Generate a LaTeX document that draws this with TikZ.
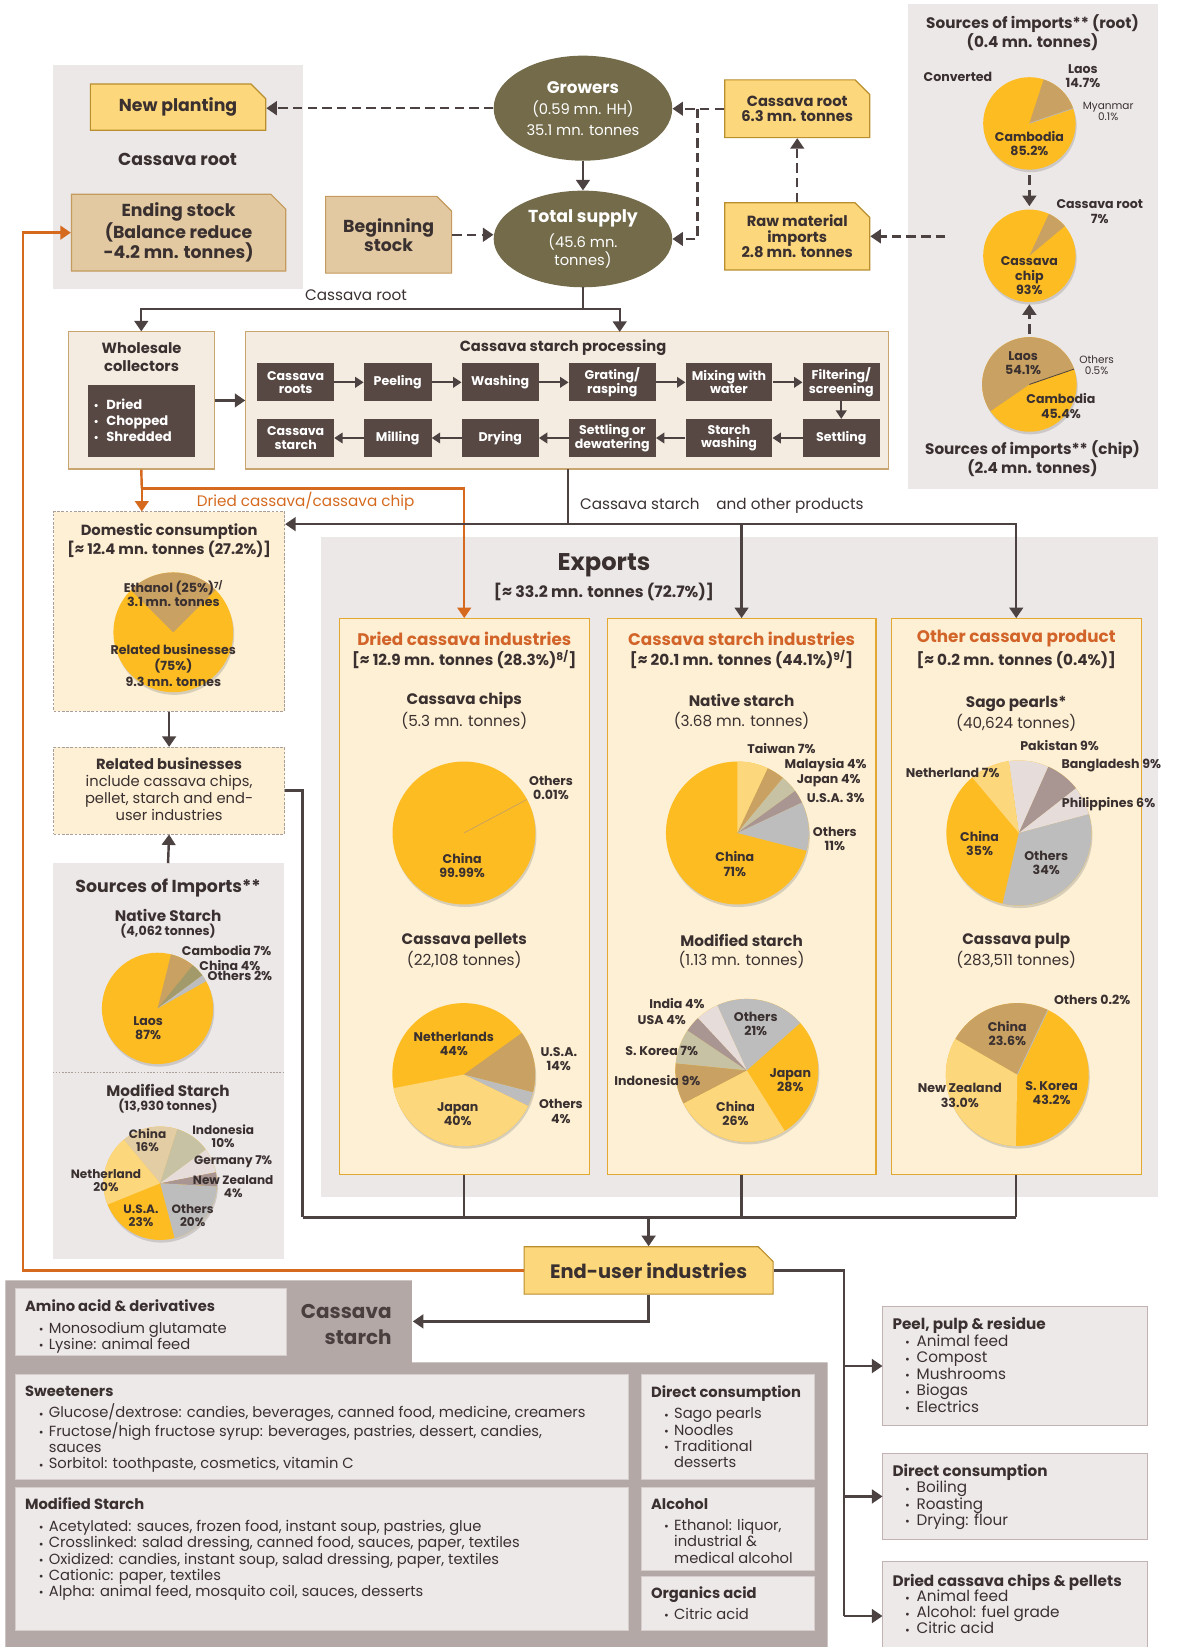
\documentclass[tikz,border=0pt]{standalone}
\usepackage{fontspec}
\setmainfont{Poppins}
\usetikzlibrary{shapes.misc,shapes.geometric,arrows.meta,shadows}
\definecolor{txt}{HTML}{3A3030}
\definecolor{arr}{HTML}{4D4242}
\definecolor{orng}{HTML}{D56A1F}
\definecolor{ylw}{HTML}{FDD77B}
\definecolor{ylwb}{HTML}{B98E2E}
\definecolor{tanf}{HTML}{E2C9A1}
\definecolor{tanb}{HTML}{C49A5E}
\definecolor{pgray}{HTML}{ECE8E7}
\definecolor{olive}{HTML}{736B4A}
\definecolor{dkbr}{HTML}{574843}
\definecolor{cream}{HTML}{FEF0D4}
\definecolor{gold}{HTML}{E3A832}
\definecolor{procf}{HTML}{F4ECE1}
\definecolor{procb}{HTML}{C9A56F}
\definecolor{pyel}{HTML}{FDBC22}
\definecolor{plyel}{HTML}{FDD77B}
\definecolor{ptan}{HTML}{C9A163}
\definecolor{pgr}{HTML}{BEBDBD}
\definecolor{pmauve}{HTML}{A99592}
\definecolor{ppink}{HTML}{E6DDDB}
\definecolor{pbeige}{HTML}{C8C2A4}
\definecolor{polive}{HTML}{A29A6B}
\definecolor{pltan}{HTML}{E3CDA5}
\definecolor{botp}{HTML}{B3A8A6}
\definecolor{botb}{HTML}{EDE9E8}
\definecolor{botbd}{HTML}{D6CECC}
\definecolor{rbd}{HTML}{C2B3B2}
\definecolor{dashc}{HTML}{A99F97}
\definecolor{ttlor}{HTML}{D2642A}
\definecolor{cstc}{HTML}{4A3F3F}
\newcommand\fs[2]{\fontsize{#1}{#2}\selectfont}
\newcommand\wdg[3]{\fill[#3] (0,0) -- (#1:\prr) arc[start angle=#1, end angle=#2, radius=\prr] -- cycle;}
\newcommand\bl{\makebox[9.6pt][l]{\raisebox{-0.3pt}{\fs{11}{11}\textbullet}}}
\newcommand\blr{\makebox[11pt][l]{\raisebox{-0.3pt}{\fs{11}{11}\textbullet}}}
\newcommand\bw{\makebox[12pt][l]{\fs{10}{10}\textbullet}}
\begin{document}
\begin{tikzpicture}[x=1pt,y=-1pt,
  every node/.append style={text=txt, inner sep=0pt},
  yb/.style={chamfered rectangle, chamfered rectangle corners=north east, chamfered rectangle sep=7pt, fill=ylw, draw=ylwb, line width=1.1pt, align=center},
  tb/.style={yb, fill=tanf, draw=tanb},
  ell/.style={ellipse, fill=olive, draw=none, text=white, align=center},
  stepbox/.style={rectangle, fill=dkbr, minimum height=36, text=white, font=\bfseries\fs{12}{12.5}, align=center},
  lb/.style={font=\bfseries\fs{12}{13.5}, align=center},
  lbs/.style={font=\fs{10}{10.5}, align=center},
  hd/.style={font=\bfseries\fs{14.5}{18}, align=center},
  rg/.style={font=\fs{14.5}{18}, align=center},
  otl/.style={font=\bfseries\fs{16}{18}, text=ttlor},
  expbox/.style={rectangle, fill=cream, draw=gold, line width=1.1pt},
  dbox/.style={rectangle, fill=cream, draw=dashc, line width=0.9pt, dash pattern=on 2.5pt off 1.5pt},
  gpanel/.style={rectangle, fill=pgray, draw=none},
  bbox/.style={rectangle, fill=botb, draw=botbd, line width=0.9pt},
  rbox/.style={rectangle, fill=botb, draw=rbd, line width=0.9pt},
  pienode/.style={circle, fill=pyel, draw=none, drop shadow={shadow xshift=1pt, shadow yshift=-2.5pt, opacity=0.3}},
  ln/.style={draw=arr, line width=2.3pt},
  ar/.style={ln, -{Triangle[length=10pt,width=13pt]}},
  ar2/.style={draw=arr, line width=1.8pt, -{Triangle[length=8pt,width=10pt]}},
  dar/.style={ar, dash pattern=on 9pt off 5pt},
  oln/.style={draw=orng, line width=2.3pt},
  oar/.style={oln, -{Triangle[length=10pt,width=13pt]}},
]
\path[use as bounding box] (0,0) rectangle (1121,1568);
\clip (0,0) rectangle (1121,1568);
% ---------- panels ----------
\node[gpanel, minimum width=238, minimum height=213] (ltp) at (169,168.5) {};
\node[gpanel, minimum width=238, minimum height=462] (rtp) at (983,235) {};
\node[gpanel, minimum width=796, minimum height=629] (exppan) at (704,825.5) {};
\node[gpanel, minimum width=220, minimum height=377] (srcp) at (160,1010.5) {};
\fill[botp] (5,1219) -- (392,1219) -- (392,1297) -- (788,1297) -- (788,1568) -- (5,1568) -- cycle;
\draw[dashc, line width=0.8pt, dash pattern=on 1.5pt off 1.5pt] (50,1020.8) -- (270,1020.8);

% ---------- top flow ----------
\node[yb, minimum width=167, minimum height=44, font=\bfseries\fs{16.5}{18}] (newp) at (169.5,102) {New planting};
\node[font=\bfseries\fs{16.5}{18}] (crt) at (169,152) {Cassava root};
\node[tb, minimum width=204, minimum height=73, font=\bfseries\fs{16.5}{18.2}] (endst) at (170,221.5) {Ending stock\\(Balance reduce\\-4.2 mn. tonnes)};
\node[tb, minimum width=120, minimum height=73, font=\bfseries\fs{16.5}{18}] (begst) at (370,223.5) {Beginning\\stock};
\node[ell, minimum width=170, minimum height=100, font=\fs{14}{20}] (grow) at (555,103) {{\bfseries\fs{16}{20}Growers}\\(0.59 mn. HH)\\35.1 mn. tonnes};
\node[ell, minimum width=170, minimum height=92, font=\fs{14}{15}] (tot) at (555,227.5) {{\bfseries\fs{16.5}{15}Total supply}\\[5pt](45.6 mn.\\tonnes)};
\node[yb, minimum width=138, minimum height=55, font=\bfseries\fs{14}{14.5}] (croot) at (759,103.5) {Cassava root\\6.3 mn. tonnes};
\node[yb, minimum width=138, minimum height=64, font=\bfseries\fs{14}{15}] (rawm) at (759,225) {Raw material\\imports\\2.8 mn. tonnes};
\node[rg] (crl) at (339,281) {Cassava root};

% ---------- right panel pies ----------
\node[hd] (t1) at (983,31) {Sources of imports** (root)\\(0.4 mn. tonnes)};
\node[pienode, minimum size=88] (pr1) at (980,117.5) {};
\begin{scope}[shift={(pr1.center)}, yscale=-1]\def\prr{44}
\wdg{72}{19.1}{ptan}
\draw[pgr, line width=0.6pt] (0,0) -- (18.9:44);
\end{scope}
\node[lb] (conv) at (912,73.5) {Converted};
\node[lb] (l1) at (1031,72.5) {Laos\\14.7\%};
\node[lbs] (l2) at (1055,106) {Myanmar\\0.1\%};
\node[lb] (l3) at (980,136.5) {Cambodia\\85.2\%};
\node[pienode, minimum size=88] (pr2) at (980,243.5) {};
\begin{scope}[shift={(pr2.center)}, yscale=-1]\def\prr{44}
\wdg{65}{40}{ptan}
\end{scope}
\node[lb] (l4) at (1047,201.5) {Cassava root\\7\%};
\node[lb] (l5) at (980,262.5) {Cassava\\chip\\93\%};
\node[pienode, minimum size=90] (pr3) at (980,366) {};
\begin{scope}[shift={(pr3.center)}, yscale=-1]\def\prr{45}
\wdg{19.8}{214.5}{ptan}
\draw[arr, line width=0.8pt] (0,0) -- (19:45);
\end{scope}
\node[lb] (l6) at (974,346) {Laos\\54.1\%};
\node[lbs] (l7) at (1044,348) {Others\\0.5\%};
\node[lb] (l8) at (1010,386.5) {Cambodia\\45.4\%};
\node[hd] (t2) at (983,437) {Sources of imports** (chip)\\(2.4 mn. tonnes)};

% ---------- wholesale & processing ----------
\node[rectangle, fill=procf, draw=procb, line width=1pt, minimum width=139, minimum height=130.5] (whole) at (134.5,381.25) {};
\node[font=\bfseries\fs{14}{18}, align=center] (wht) at (134.8,340) {Wholesale\\collectors};
\node[rectangle, fill=dkbr, minimum width=102, minimum height=68] (wbox) at (135,401) {};
\node[anchor=west, font=\bfseries\fs{12.5}{15.3}, text=white, align=left] (wbt) at (89,400) {\bw Dried\\\bw Chopped\\\bw Shredded};
\node[rectangle, fill=procf, draw=procb, line width=1pt, minimum width=612, minimum height=130.5] (proc) at (540,381.25) {};
\node[font=\bfseries\fs{14}{18}] (pt) at (536,331) {Cassava starch processing};
\node[stepbox, minimum width=73] (s1) at (281.5,364) {Cassava\\roots};
\node[stepbox, minimum width=64.4] (s2) at (378.6,364) {Peeling};
\node[stepbox, minimum width=73.2] (s3) at (476.2,364) {Washing};
\node[stepbox, minimum width=82.8] (s4) at (582.9,364) {Grating/\\rasping};
\node[stepbox, minimum width=82.5] (s5) at (694,364) {Mixing with\\water};
\node[stepbox, minimum width=73.3] (s6) at (800.9,364) {Filtering/\\screening};
\node[stepbox, minimum width=73.3] (s7) at (800.9,417) {Settling};
\node[stepbox, minimum width=82.5] (s8) at (694,417) {Starch\\washing};
\node[stepbox, minimum width=82.8] (s9) at (582.9,417) {Settling or\\dewatering};
\node[stepbox, minimum width=73.2] (s10) at (476.2,417) {Drying};
\node[stepbox, minimum width=64.4] (s11) at (378.6,417) {Milling};
\node[stepbox, minimum width=73] (s12) at (281.5,417) {Cassava\\starch};
\foreach \a/\b in {s1/s2,s2/s3,s3/s4,s4/s5,s5/s6,s6/s7,s7/s8,s8/s9,s9/s10,s10/s11,s11/s12} \draw[ar2] (\a) -- (\b);

\node[font=\fs{14.5}{18}, text=orng] (dcl) at (291,477) {Dried cassava/cassava chip};
\node[anchor=west, font=\fs{14.5}{18}] (csl) at (552,482) {Cassava starch\hspace{1.1em}and other products};

% ---------- domestic ----------
\node[dbox, minimum width=220, minimum height=190] (dom) at (161,582) {};
\node[hd, font=\bfseries\fs{14}{18}] (domt) at (161,514.4) {Domestic consumption\\{}[≈ 12.4 mn. tonnes (27.2\%)]};
\node[pienode, minimum size=114] (pd) at (165,602) {};
\begin{scope}[shift={(pd.center)}, yscale=-1]\def\prr{57}
\wdg{45}{135}{ptan}
\end{scope}
\node[lb] (dl1) at (165,565) {Ethanol (25\%)\textsuperscript{7/}\\3.1 mn. tonnes};
\node[lb, font=\bfseries\fs{12}{15}] (dl2) at (165,633.6) {Related businesses\\(75\%)\\9.3 mn. tonnes};
\node[dbox, minimum width=220, minimum height=82.5] (rel) at (161,752.75) {};
\node[font=\fs{14}{16}, align=center] (relt) at (161,751.5) {{\bfseries Related businesses}\\include cassava chips,\\pellet, starch and end-\\user industries};

% ---------- sources of imports (left) ----------
\node[font=\bfseries\fs{16.5}{18}] (sit) at (160,845.4) {Sources of Imports**};
\node[font=\bfseries\fs{14.5}{18}] (sia) at (160,871.4) {Native Starch};
\node[font=\bfseries\fs{12}{14}] (sib) at (160,886.6) {(4,062 tonnes)};
\node[pienode, minimum size=106] (pni) at (150,960) {};
\begin{scope}[shift={(pni.center)}, yscale=-1]\def\prr{53}
\wdg{76}{50.8}{ptan}
\wdg{50.8}{36.4}{polive}
\wdg{36.4}{29.2}{pgr}
\end{scope}
\node[lb] (nl1) at (215.7,904.7) {Cambodia 7\%};
\node[lb] (nl2) at (218.9,919) {China 4\%};
\node[lb] (nl3) at (228.4,929.5) {Others 2\%};
\node[lb] (nl4) at (141,979) {Laos\\87\%};
\node[font=\bfseries\fs{14.5}{18}] (sma) at (160,1038) {Modified Starch};
\node[font=\bfseries\fs{12}{14}] (smb) at (160,1053.2) {(13,930 tonnes)};
\node[pienode, minimum size=108] (pmi) at (152.5,1126.5) {};
\begin{scope}[shift={(pmi.center)}, yscale=-1]\def\prr{54}
\wdg{130}{72.4}{pltan}
\wdg{72.4}{36.4}{pbeige}
\wdg{36.4}{11.2}{ppink}
\wdg{11.2}{-3.2}{pmauve}
\wdg{-3.2}{-75.2}{pgr}
\wdg{-158}{-230}{plyel}
\end{scope}
\node[lb, font=\bfseries\fs{11.5}{12.5}] (ml1) at (140.5,1085.5) {China\\16\%};
\node[lb, font=\bfseries\fs{11.5}{12.5}] (ml2) at (212.5,1082) {Indonesia\\10\%};
\node[lb, font=\bfseries\fs{11.5}{12.5}] (ml3) at (222,1105.5) {Germany 7\%};
\node[lb, font=\bfseries\fs{11.5}{12.5}] (ml4) at (222,1129.3) {New Zealand\\4\%};
\node[lb, font=\bfseries\fs{11.5}{12.5}] (ml5) at (100.9,1123.7) {Netherland\\20\%};
\node[lb, font=\bfseries\fs{11.5}{12.5}] (ml6) at (134.2,1157.5) {U.S.A.\\23\%};
\node[lb, font=\bfseries\fs{11.5}{12.5}] (ml7) at (183.4,1157.5) {Others\\20\%};

% ---------- exports ----------
\node[font=\bfseries\fs{23}{26}] (ext) at (575,538) {Exports};
\node[font=\bfseries\fs{15}{18}] (exs) at (575,564) {[≈ 33.2 mn. tonnes (72.7\%)]};
\node[expbox, minimum width=238, minimum height=529] (dci) at (442,853.5) {};
\node[expbox, minimum width=256, minimum height=529] (csi) at (706,853.5) {};
\node[expbox, minimum width=238, minimum height=529] (ocp) at (967.5,853.5) {};
\node[otl] (dcit) at (442,608) {Dried cassava industries};
\node[hd] (dcis) at (442,628) {[≈ 12.9 mn. tonnes (28.3\%)\textsuperscript{8/}]};
\node[otl] (csit) at (706,608) {Cassava starch industries};
\node[hd] (csis) at (706,628) {[≈ 20.1 mn. tonnes (44.1\%)\textsuperscript{9/}]};
\node[otl] (ocpt) at (967.5,608) {Other cassava product};
\node[hd] (ocps) at (967.5,628) {[≈ 0.2 mn. tonnes (0.4\%)]};

\node[hd] (cct) at (442,667) {Cassava chips};
\node[rg] (ccs) at (442,686) {(5.3 mn. tonnes)};
\node[pienode, minimum size=136] (pcc) at (441.7,793) {};
\begin{scope}[shift={(pcc.center)}, yscale=-1]\def\prr{68}
\draw[ptan, line width=0.7pt] (0,0) -- (28:68);
\end{scope}
\node[lb] (cl1) at (524.6,750) {Others\\0.01\%};
\node[lb] (cl2) at (440,824) {China\\99.99\%};

\node[hd] (nst) at (706,667) {Native starch};
\node[rg] (nss) at (706,686) {(3.68 mn. tonnes)};
\node[pienode, minimum size=136] (pns) at (702,793) {};
\begin{scope}[shift={(pns.center)}, yscale=-1]\def\prr{68}
\wdg{90}{64.8}{plyel}
\wdg{64.8}{50.4}{ptan}
\wdg{50.4}{36}{pbeige}
\wdg{36}{25.2}{pmauve}
\wdg{25.2}{-14.4}{pgr}
\end{scope}
\node[lb] (sl1) at (744,712.5) {Taiwan 7\%};
\node[lb] (sl2) at (786,728) {Malaysia 4\%};
\node[lb] (sl3) at (789,743) {Japan 4\%};
\node[lb] (sl4) at (795.6,760) {U.S.A. 3\%};
\node[lb] (sl5) at (794.8,798.5) {Others\\11\%};
\node[lb] (sl6) at (699.6,822.5) {China\\71\%};

\node[hd] (sgt) at (967.5,670) {Sago pearls*};
\node[rg] (sgs) at (967.5,687.7) {(40,624 tonnes)};
\node[pienode, minimum size=138] (psg) at (970,793) {};
\begin{scope}[shift={(psg.center)}, yscale=-1]\def\prr{69}
\wdg{98}{66}{ppink}
\wdg{66}{38}{pmauve}
\wdg{38}{15}{ppink}
\wdg{15}{-103}{pgr}
\wdg{130}{98}{plyel}
\end{scope}
\node[lb] (gl1) at (1008.8,709.6) {Pakistan 9\%};
\node[lb] (gl2) at (1058,728.7) {Bangladesh 9\%};
\node[lb] (gl3) at (907,735.7) {Netherland 7\%};
\node[lb] (gl4) at (1055.4,766) {Philippines 6\%};
\node[lb] (gl5) at (932.6,803) {China\\35\%};
\node[lb] (gl6) at (996,821.5) {Others\\34\%};

\node[hd] (cpt) at (442,895.5) {Cassava pellets};
\node[rg] (cps) at (442,913.6) {(22,108 tonnes)};
\node[pienode, minimum size=136] (ppl) at (441.5,1023) {};
\begin{scope}[shift={(ppl.center)}, yscale=-1]\def\prr{68}
\wdg{35.6}{-14.4}{ptan}
\wdg{-14.4}{-26}{pgr}
\wdg{-26}{-169}{plyel}
\end{scope}
\node[lb] (pl1) at (432,994) {Netherlands\\44\%};
\node[lb] (pl2) at (532,1008.4) {U.S.A.\\14\%};
\node[lb] (pl3) at (435.8,1061) {Japan\\40\%};
\node[lb] (pl4) at (534,1058) {Others\\4\%};

\node[hd] (mst) at (706,895.5) {Modified starch};
\node[rg] (mss) at (706,913.6) {(1.13 mn. tonnes)};
\node[pienode, minimum size=136] (pms) at (711,1019) {};
\begin{scope}[shift={(pms.center)}, yscale=-1]\def\prr{68}
\wdg{114.5}{41.6}{pgr}
\wdg{-58}{-152.5}{plyel}
\wdg{-152.5}{-185.7}{ptan}
\wdg{174.3}{146}{pbeige}
\wdg{146}{133}{pmauve}
\wdg{133}{114.5}{ppink}
\end{scope}
\node[lb] (xl1) at (644.6,955.8) {India 4\%};
\node[lb] (xl2) at (630,970.7) {USA 4\%};
\node[lb] (xl3) at (630,1000.8) {S. Korea 7\%};
\node[lb] (xl4) at (625.8,1028.4) {Indonesia 9\%};
\node[lb] (xl5) at (719.5,975) {Others\\21\%};
\node[lb] (xl6) at (752.4,1028.2) {Japan\\28\%};
\node[lb] (xl7) at (700.3,1060) {China\\26\%};

\node[hd] (put) at (967.5,895.5) {Cassava pulp};
\node[rg] (pus) at (967.5,913.6) {(283,511 tonnes)};
\node[pienode, minimum size=136] (ppu) at (968.5,1023) {};
\begin{scope}[shift={(ppu.center)}, yscale=-1]\def\prr{68}
\wdg{-91.2}{-210}{plyel}
\wdg{150}{65}{ptan}
\draw[pgr, line width=0.8pt] (0,0) -- (64.6:68);
\end{scope}
\node[lb] (ul1) at (1039.8,951.7) {Others 0.2\%};
\node[lb] (ul2) at (959,983.8) {China\\23.6\%};
\node[lb] (ul3) at (913.8,1042.8) {New Zealand\\33.0\%};
\node[lb] (ul4) at (1001.2,1041) {S. Korea\\43.2\%};

% ---------- end-user ----------
\node[yb, minimum width=237, minimum height=45, font=\bfseries\fs{18.5}{20}] (eu) at (617.5,1209.5) {End-user industries};
\node[anchor=east, align=right, font=\bfseries\fs{19}{25}, text=cstc] (cst) at (373,1260.6) {Cassava\\starch};

\node[bbox, minimum width=258, minimum height=63] (amino) at (144,1258.5) {};
\node[bbox, minimum width=583.5, minimum height=100] (sweet) at (306.75,1358.5) {};
\node[bbox, minimum width=583.5, minimum height=135.4] (mods) at (306.75,1484.1) {};
\node[bbox, minimum width=164, minimum height=100] (dcb) at (693,1358.5) {};
\node[bbox, minimum width=164, minimum height=78.7] (alc) at (693,1455.75) {};
\node[bbox, minimum width=164, minimum height=51.4] (org) at (693,1526.1) {};
\node[anchor=north west, align=left, font=\fs{14}{15.8}] (aminot) at (23.7,1237) {\textbf{Amino acid \& derivatives}\\[4.9pt]\hspace*{13pt}\bl Monosodium glutamate\\\hspace*{13pt}\bl Lysine: animal feed};
\node[anchor=north west, align=left, font=\fs{14}{15.4}] (sweett) at (23.7,1319.5) {\textbf{Sweeteners}\\[4.6pt]\hspace*{13pt}\bl Glucose/dextrose: candies, beverages, canned food, medicine, creamers\\\hspace*{13pt}\bl Fructose/high fructose syrup: beverages, pastries, dessert, candies,\\\hspace*{22.6pt}sauces\\\hspace*{13pt}\bl Sorbitol: toothpaste, cosmetics, vitamin C};
\node[anchor=north west, align=left, font=\fs{14}{15.5}] (modst) at (23.7,1426.1) {\textbf{Modified Starch}\\[5pt]\hspace*{13pt}\bl Acetylated: sauces, frozen food, instant soup, pastries, glue\\\hspace*{13pt}\bl Crosslinked: salad dressing, canned food, sauces, paper, textiles\\\hspace*{13pt}\bl Oxidized: candies, instant soup, salad dressing, paper, textiles\\\hspace*{13pt}\bl Cationic: paper, textiles\\\hspace*{13pt}\bl Alpha: animal feed, mosquito coil, sauces, desserts};
\node[anchor=north west, align=left, font=\fs{14}{15.4}] (dcbt) at (619.7,1319.5) {\textbf{Direct consumption}\\[4.6pt]\hspace*{12.3pt}\bl Sago pearls\\\hspace*{12.3pt}\bl Noodles\\\hspace*{12.3pt}\bl Traditional\\\hspace*{21.9pt}desserts};
\node[anchor=north west, align=left, font=\fs{14}{15.5}] (alct) at (619.7,1426.1) {\textbf{Alcohol}\\[5pt]\hspace*{12.3pt}\bl Ethanol: liquor,\\\hspace*{21.9pt}industrial \&\\\hspace*{21.9pt}medical alcohol};
\node[anchor=north west, align=left, font=\fs{14}{15.5}] (orgt) at (619.7,1510.8) {\textbf{Organics acid}\\[4.2pt]\hspace*{12.3pt}\bl Citric acid};

\node[rbox, minimum width=251.4, minimum height=113] (peel) at (966.3,1300.5) {};
\node[rbox, minimum width=251.4, minimum height=81.9] (dir2) at (966.3,1424.65) {};
\node[rbox, minimum width=251.4, minimum height=103] (dch) at (966.3,1538.5) {};
\node[anchor=north west, align=left, font=\fs{14.5}{15.8}] (peelt) at (849.5,1253.9) {\textbf{Peel, pulp \& residue}\\\hspace*{12pt}\blr Animal feed\\\hspace*{12pt}\blr Compost\\\hspace*{12pt}\blr Mushrooms\\\hspace*{12pt}\blr Biogas\\\hspace*{12pt}\blr Electrics};
\node[anchor=north west, align=left, font=\fs{14.5}{15.4}] (dir2t) at (849.5,1394.1) {\textbf{Direct consumption}\\\hspace*{12pt}\blr Boiling\\\hspace*{12pt}\blr Roasting\\\hspace*{12pt}\blr Drying: flour};
\node[anchor=north west, align=left, font=\fs{14.5}{15.2}] (dcht) at (849.5,1498.1) {\textbf{Dried cassava chips \& pellets}\\\hspace*{12pt}\blr Animal feed\\\hspace*{12pt}\blr Alcohol: fuel grade\\\hspace*{12pt}\blr Citric acid};

% ---------- connectors ----------
\draw[dar] (grow.west) -- (newp.east |- grow.west);
\draw[dar] (croot.west) -- (grow.east |- croot.west);
\coordinate (dj) at (664,103.5);
\draw[dar] (dj) |- (tot.east);
\draw[dar] (rawm.north) -- (croot.south);
\coordinate (rp) at (900,225);
\draw[dar] (rp) -- (rawm.east);
\draw[dar] (begst.east) -- (tot.west |- begst.east);
\draw[ar] (grow.south) -- (tot.north);
\coordinate (j1) at (555,294);
\coordinate (pa) at (590,316);
\draw[ln] (tot.south) -- (j1);
\draw[ar] (j1) -| (whole.north);
\draw[ar] (j1) -| (pa);
\draw[ar] (whole.east) -- (proc.west);
\draw[dar, shorten <=5pt, shorten >=3pt] (pr1.south) -- (pr2.north);
\draw[dar, shorten <=3pt, shorten >=2pt] (pr3.north) -- (pr2.south);

\coordinate (oj) at (135,465);
\coordinate (dtop) at (135,487);
\draw[oln] (whole.south) -- (oj);
\draw[oar] (oj) -- (dtop);
\draw[oar] (oj) -| (dci.north);

\coordinate (pb) at (541,446.5);
\coordinate (cj) at (541,499);
\draw[ln] (pb) -- (cj);
\draw[ar] (cj) -- (dom.east |- cj);
\draw[ar] (cj) -| (csi.north);
\draw[ar] (cj) -| (ocp.north);
\draw[ar] (dom.south) -- (rel.north);
\draw[ar] (srcp.north) -- (rel.south);

\coordinate (rj) at (288,1159);
\coordinate (ej) at (617.5,1159);
\draw[ln] (rel.east) -| (rj);
\draw[ln] (rj) -- (ocp.south |- rj);
\draw[ln] (dci.south) -- (dci.south |- rj);
\draw[ln] (csi.south) -- (csi.south |- rj);
\draw[ln] (ocp.south) -- (ocp.south |- rj);
\draw[ar] (ej) -- (eu.north);

\coordinate (oc2) at (22,221.5);
\draw[oar] (eu.west) -| (oc2) -- (endst.west);
\coordinate (cse) at (393,1258);
\draw[ar] (eu.south) |- (cse);
\coordinate (rj2) at (803.5,1209.5);
\coordinate (rj3) at (803.5,1538.5);
\draw[ln] (eu.east) -- (rj2) -- (rj3);
\draw[ar] (peel.west -| rj2) -- (peel.west);
\draw[ar] (dir2.west -| rj2) -- (dir2.west);
\draw[ar] (rj3) -- (dch.west);
\end{tikzpicture}
\end{document}
